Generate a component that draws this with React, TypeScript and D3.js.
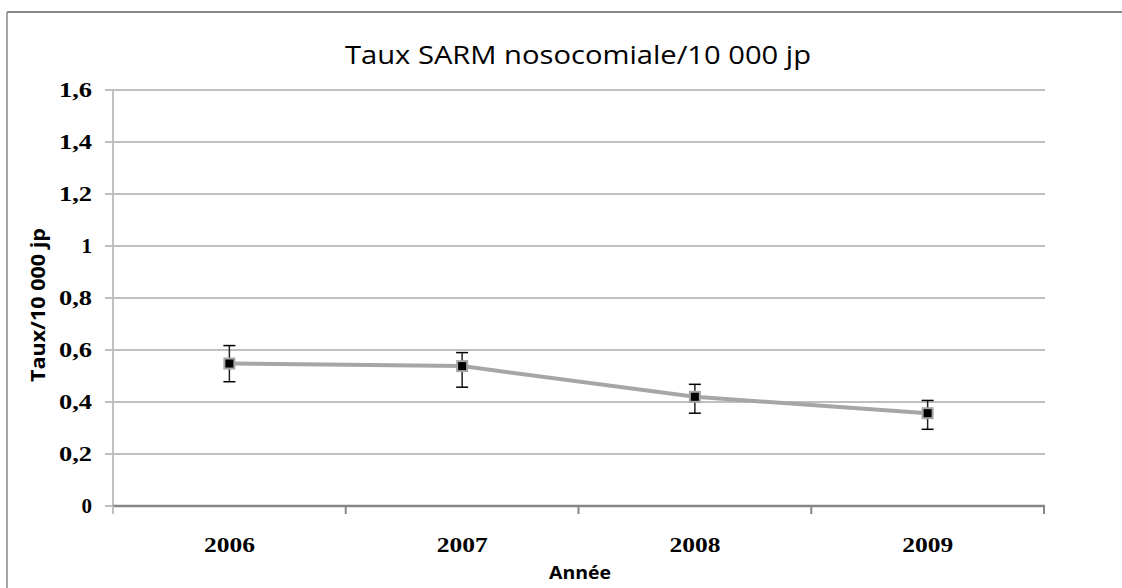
import React from "react";
import * as d3 from "d3";

const years = ["2006", "2007", "2008", "2009"];
const rates = [0.548, 0.538, 0.42, 0.357];
const errLow = [0.478, 0.457, 0.357, 0.295];
const errHigh = [0.617, 0.59, 0.468, 0.406];
const yTicks = [0, 0.2, 0.4, 0.6, 0.8, 1, 1.2, 1.4, 1.6];

const title = "Taux SARM nosocomiale/10 000 jp";
const yTitle = "Taux/10 000 jp";
const xTitle = "Année";

export default function App() {
  const W = 1122, H = 588;
  const left = 113, right = 1044, top = 90, bottom = 506;
  const x = d3.scaleBand().domain(years).range([left, right]);
  const y = d3.scaleLinear().domain([0, 1.6]).range([bottom, top]);
  const cx = (d: string) => (x(d) as number) + x.bandwidth() / 2;
  const line = d3.line<number>().x((_, i) => cx(years[i])).y((v) => y(v));
  const fmt = (v: number) => String(v).replace(".", ",");
  const bounds = years.map((d) => x(d) as number).concat([right]);
  return (
    <svg width={W} height={H} style={{ position: "absolute", left: 0, top: 0, background: "#fff" }}>
      <rect x={0} y={0} width={W} height={H} fill="#fff" />
      <line x1={7} x2={W} y1={12} y2={12} stroke="#888" strokeWidth={2} />
      <line x1={7} x2={7} y1={12} y2={H} stroke="#888" strokeWidth={1.5} />
      <text x={578} y={64} textAnchor="middle" fontFamily="'Open Sans', sans-serif" fontSize={25} textLength={466} lengthAdjust="spacingAndGlyphs" fill="#000">{title}</text>
      {yTicks.map((t) => {
        const s = fmt(t);
        return (
          <g key={t}>
            {t !== 0 && <line x1={left} x2={right + 1} y1={y(t)} y2={y(t)} stroke="#bfbfbf" strokeWidth={2} />}
            <line x1={105} x2={left} y1={y(t)} y2={y(t)} stroke="#bfbfbf" strokeWidth={2} />
            <text x={92} y={y(t) + 7} textAnchor="end" fontFamily="'Liberation Serif', serif" fontWeight="bold" fontSize={21}
              {...(s.length > 1 ? { textLength: 33, lengthAdjust: "spacingAndGlyphs" } : {})} fill="#000">{s}</text>
          </g>
        );
      })}
      <line x1={left} x2={left} y1={top} y2={bottom + 2} stroke="#bfbfbf" strokeWidth={2} />
      <line x1={left} x2={right + 1} y1={bottom} y2={bottom} stroke="#868686" strokeWidth={2.5} />
      {bounds.map((b, i) => (
        <line key={i} x1={b} x2={b} y1={bottom} y2={514} stroke={i === 0 ? "#bfbfbf" : "#868686"} strokeWidth={2} />
      ))}
      {years.map((d) => (
        <text key={d} x={cx(d)} y={552} textAnchor="middle" fontFamily="'Liberation Serif', serif" fontWeight="bold" fontSize={21} textLength={51} lengthAdjust="spacingAndGlyphs" fill="#000">{d}</text>
      ))}
      <text x={580} y={579} textAnchor="middle" fontFamily="'Open Sans', sans-serif" fontWeight="bold" fontSize={18} textLength={62} lengthAdjust="spacingAndGlyphs" fill="#000">{xTitle}</text>
      <text transform={`translate(45, 305) rotate(-90)`} textAnchor="middle" fontFamily="'Open Sans', sans-serif" fontWeight="bold" fontSize={20} textLength={154} lengthAdjust="spacingAndGlyphs" fill="#000">{yTitle}</text>
      <path d={line(rates) as string} fill="none" stroke="#a6a6a6" strokeWidth={4} />
      {years.map((d, i) => (
        <g key={d}>
          <line x1={cx(d)} x2={cx(d)} y1={y(errHigh[i])} y2={y(errLow[i])} stroke="#222" strokeWidth={1.5} />
          <line x1={cx(d) - 6} x2={cx(d) + 6} y1={y(errHigh[i])} y2={y(errHigh[i])} stroke="#000" strokeWidth={1.5} />
          <line x1={cx(d) - 6} x2={cx(d) + 6} y1={y(errLow[i])} y2={y(errLow[i])} stroke="#000" strokeWidth={1.5} />
          <rect x={cx(d) - 5} y={y(rates[i]) - 5} width={10} height={10} fill="#000" stroke="#a6a6a6" strokeWidth={2} />
        </g>
      ))}
    </svg>
  );
}
